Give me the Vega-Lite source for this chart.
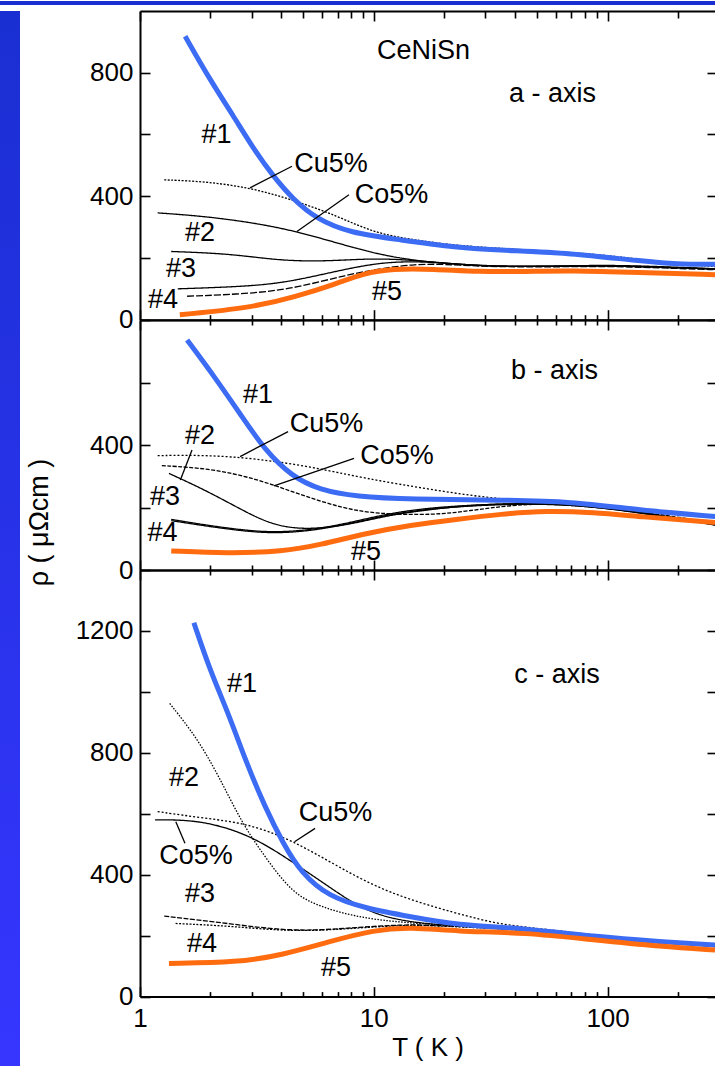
{
  "$schema": "https://vega.github.io/schema/vega-lite/v6.json",
  "padding": 0,
  "background": "white",
  "config": {
    "view": {"stroke": null},
    "font": "Liberation Sans",
    "axis": {
      "domainColor": "black", "domainWidth": 2, "tickColor": "black", "tickWidth": 1.6,
      "labelFont": "Liberation Sans", "labelFontSize": 26, "labelColor": "black",
      "titleFont": "Liberation Sans", "titleFontSize": 26, "titleFontWeight": "normal", "titleColor": "black",
      "grid": false, "labelFlush": false, "labelOverlap": false, "labelBound": false
    }
  },
  "datasets": {
    "ca": [
      {"s":"#1","T":1.56,"r":918},{"s":"#1","T":2.0,"r":775},{"s":"#1","T":2.5,"r":662},{"s":"#1","T":3.05,"r":555},{"s":"#1","T":3.72,"r":464},{"s":"#1","T":4.53,"r":389},{"s":"#1","T":5.7,"r":326},{"s":"#1","T":7.9,"r":281},{"s":"#1","T":12.9,"r":259},{"s":"#1","T":22.5,"r":234},{"s":"#1","T":35,"r":225},{"s":"#1","T":70,"r":216},{"s":"#1","T":136,"r":190},{"s":"#1","T":215,"r":178},{"s":"#1","T":288,"r":180},
      {"s":"Cu5%","T":1.27,"r":453},{"s":"Cu5%","T":1.9,"r":448},{"s":"Cu5%","T":2.98,"r":427},{"s":"Cu5%","T":4.47,"r":389},{"s":"Cu5%","T":7.0,"r":336},{"s":"Cu5%","T":10,"r":281},{"s":"Cu5%","T":15,"r":258},{"s":"Cu5%","T":22.5,"r":240},{"s":"Cu5%","T":40,"r":228},{"s":"Cu5%","T":70,"r":218},{"s":"Cu5%","T":100,"r":208},{"s":"Cu5%","T":200,"r":182},{"s":"Cu5%","T":288,"r":172},
      {"s":"Co5%","T":1.19,"r":346},{"s":"Co5%","T":1.9,"r":335},{"s":"Co5%","T":3.12,"r":313},{"s":"Co5%","T":4.68,"r":286},{"s":"Co5%","T":7.0,"r":248},{"s":"Co5%","T":10.5,"r":211},{"s":"Co5%","T":15.7,"r":189},{"s":"Co5%","T":28,"r":173},{"s":"Co5%","T":50,"r":172},{"s":"Co5%","T":100,"r":175},{"s":"Co5%","T":200,"r":168},{"s":"Co5%","T":288,"r":165},
      {"s":"#2","T":1.36,"r":221},{"s":"#2","T":2.38,"r":214},{"s":"#2","T":3.74,"r":194},{"s":"#2","T":5.36,"r":189},{"s":"#2","T":7.5,"r":193},{"s":"#2","T":10,"r":198},{"s":"#2","T":14.4,"r":194},{"s":"#2","T":28,"r":173},{"s":"#2","T":50,"r":172},{"s":"#2","T":100,"r":178},{"s":"#2","T":200,"r":170},{"s":"#2","T":288,"r":165},
      {"s":"#3","T":1.45,"r":100},{"s":"#3","T":2.98,"r":108},{"s":"#3","T":4.47,"r":124},{"s":"#3","T":7.35,"r":162},{"s":"#3","T":10.5,"r":184},{"s":"#3","T":14.4,"r":189},{"s":"#3","T":20,"r":184},{"s":"#3","T":28,"r":175},{"s":"#3","T":50,"r":172},{"s":"#3","T":100,"r":176},{"s":"#3","T":200,"r":168},{"s":"#3","T":288,"r":164},
      {"s":"#4","T":1.59,"r":76},{"s":"#4","T":2.98,"r":84},{"s":"#4","T":4.69,"r":103},{"s":"#4","T":7.68,"r":146},{"s":"#4","T":11,"r":167},{"s":"#4","T":15,"r":180},{"s":"#4","T":20,"r":180},{"s":"#4","T":28,"r":173},{"s":"#4","T":50,"r":170},{"s":"#4","T":100,"r":174},{"s":"#4","T":200,"r":166},{"s":"#4","T":288,"r":162},
      {"s":"#5","T":1.48,"r":16},{"s":"#5","T":2.98,"r":38},{"s":"#5","T":4.69,"r":76},{"s":"#5","T":6.7,"r":113},{"s":"#5","T":9.1,"r":151},{"s":"#5","T":12,"r":165},{"s":"#5","T":18,"r":164},{"s":"#5","T":28,"r":155},{"s":"#5","T":45,"r":156},{"s":"#5","T":70,"r":159},{"s":"#5","T":136,"r":153},{"s":"#5","T":288,"r":146}
    ],
    "cb": [
      {"s":"#1","T":1.59,"r":736},{"s":"#1","T":2.08,"r":619},{"s":"#1","T":2.73,"r":491},{"s":"#1","T":3.42,"r":384},{"s":"#1","T":4.47,"r":299},{"s":"#1","T":5.87,"r":256},{"s":"#1","T":8.39,"r":235},{"s":"#1","T":14.4,"r":226},{"s":"#1","T":35,"r":224},{"s":"#1","T":70,"r":219},{"s":"#1","T":136,"r":192},{"s":"#1","T":288,"r":171},
      {"s":"Cu5%","T":1.19,"r":366},{"s":"Cu5%","T":1.9,"r":368},{"s":"Cu5%","T":3.12,"r":357},{"s":"Cu5%","T":5.36,"r":331},{"s":"Cu5%","T":9.16,"r":293},{"s":"Cu5%","T":18,"r":256},{"s":"Cu5%","T":35,"r":224},{"s":"Cu5%","T":70,"r":218},{"s":"Cu5%","T":136,"r":190},{"s":"Cu5%","T":288,"r":168},
      {"s":"Co5%","T":1.24,"r":334},{"s":"Co5%","T":1.99,"r":325},{"s":"Co5%","T":3.12,"r":293},{"s":"Co5%","T":4.68,"r":245},{"s":"Co5%","T":7.35,"r":197},{"s":"Co5%","T":10.5,"r":179},{"s":"Co5%","T":18,"r":176},{"s":"Co5%","T":25,"r":188},{"s":"Co5%","T":40,"r":210},{"s":"Co5%","T":70,"r":214},{"s":"Co5%","T":136,"r":189},{"s":"Co5%","T":288,"r":150},
      {"s":"#2","T":1.33,"r":309},{"s":"#2","T":1.9,"r":256},{"s":"#2","T":2.73,"r":192},{"s":"#2","T":3.74,"r":141},{"s":"#2","T":5.36,"r":128},{"s":"#2","T":8.39,"r":149},{"s":"#2","T":11.5,"r":176},{"s":"#2","T":22.5,"r":205},{"s":"#2","T":44.5,"r":216},{"s":"#2","T":87,"r":203},{"s":"#2","T":150,"r":180},{"s":"#2","T":288,"r":144},
      {"s":"#3","T":1.36,"r":162},{"s":"#3","T":1.9,"r":144},{"s":"#3","T":2.73,"r":128},{"s":"#3","T":3.74,"r":120},{"s":"#3","T":5.36,"r":128},{"s":"#3","T":7.68,"r":149},{"s":"#3","T":11.5,"r":181},{"s":"#3","T":18,"r":201},{"s":"#3","T":35,"r":213},{"s":"#3","T":70,"r":213},{"s":"#3","T":136,"r":187},{"s":"#3","T":288,"r":147},
      {"s":"#4","T":1.36,"r":158},{"s":"#4","T":1.9,"r":141},{"s":"#4","T":2.73,"r":125},{"s":"#4","T":3.74,"r":117},{"s":"#4","T":5.36,"r":125},{"s":"#4","T":7.68,"r":146},{"s":"#4","T":11.5,"r":177},{"s":"#4","T":18,"r":198},{"s":"#4","T":35,"r":211},{"s":"#4","T":70,"r":211},{"s":"#4","T":136,"r":184},{"s":"#4","T":288,"r":144},
      {"s":"#5","T":1.36,"r":61},{"s":"#5","T":2.38,"r":53},{"s":"#5","T":4.09,"r":59},{"s":"#5","T":5.87,"r":80},{"s":"#5","T":9.16,"r":117},{"s":"#5","T":14.4,"r":144},{"s":"#5","T":22.5,"r":162},{"s":"#5","T":35,"r":179},{"s":"#5","T":55,"r":190},{"s":"#5","T":87,"r":184},{"s":"#5","T":136,"r":171},{"s":"#5","T":288,"r":152}
    ],
    "cc": [
      {"s":"#1","T":1.70,"r":1227},{"s":"#1","T":1.99,"r":1072},{"s":"#1","T":2.39,"r":929},{"s":"#1","T":2.86,"r":765},{"s":"#1","T":3.42,"r":623},{"s":"#1","T":4.09,"r":503},{"s":"#1","T":4.9,"r":405},{"s":"#1","T":6.42,"r":328},{"s":"#1","T":9.2,"r":290},{"s":"#1","T":14.4,"r":262},{"s":"#1","T":22.5,"r":235},{"s":"#1","T":44.5,"r":224},{"s":"#1","T":87,"r":197},{"s":"#1","T":170,"r":180},{"s":"#1","T":288,"r":169},
      {"s":"#2","T":1.34,"r":962},{"s":"#2","T":1.74,"r":853},{"s":"#2","T":2.18,"r":722},{"s":"#2","T":2.73,"r":569},{"s":"#2","T":3.42,"r":459},{"s":"#2","T":4.48,"r":339},{"s":"#2","T":5.87,"r":295},{"s":"#2","T":8.39,"r":262},{"s":"#2","T":12,"r":246},{"s":"#2","T":20,"r":234},{"s":"#2","T":40,"r":224},{"s":"#2","T":100,"r":195},{"s":"#2","T":288,"r":167},
      {"s":"Cu5%","T":1.19,"r":607},{"s":"Cu5%","T":1.9,"r":585},{"s":"Cu5%","T":2.86,"r":569},{"s":"Cu5%","T":4.47,"r":514},{"s":"Cu5%","T":7.0,"r":427},{"s":"Cu5%","T":11.5,"r":339},{"s":"Cu5%","T":22.5,"r":273},{"s":"Cu5%","T":35,"r":235},{"s":"Cu5%","T":60,"r":218},{"s":"Cu5%","T":100,"r":196},{"s":"Cu5%","T":288,"r":166},
      {"s":"Co5%","T":1.16,"r":580},{"s":"Co5%","T":1.82,"r":580},{"s":"Co5%","T":2.98,"r":530},{"s":"Co5%","T":4.47,"r":443},{"s":"Co5%","T":6.42,"r":361},{"s":"Co5%","T":9.2,"r":279},{"s":"Co5%","T":13.6,"r":246},{"s":"Co5%","T":20,"r":234},{"s":"Co5%","T":40,"r":224},{"s":"Co5%","T":100,"r":195},{"s":"Co5%","T":288,"r":166},
      {"s":"#3","T":1.27,"r":264},{"s":"#3","T":2.39,"r":240},{"s":"#3","T":4.47,"r":213},{"s":"#3","T":7.68,"r":224},{"s":"#3","T":13.6,"r":238},{"s":"#3","T":20,"r":232},{"s":"#3","T":40,"r":222},{"s":"#3","T":100,"r":193},{"s":"#3","T":288,"r":165},
      {"s":"#4","T":1.42,"r":240},{"s":"#4","T":2.39,"r":232},{"s":"#4","T":4.47,"r":213},{"s":"#4","T":7.68,"r":222},{"s":"#4","T":13.6,"r":236},{"s":"#4","T":20,"r":231},{"s":"#4","T":40,"r":221},{"s":"#4","T":100,"r":192},{"s":"#4","T":288,"r":164},
      {"s":"#5","T":1.33,"r":109},{"s":"#5","T":2.61,"r":112},{"s":"#5","T":4.09,"r":137},{"s":"#5","T":6.42,"r":180},{"s":"#5","T":10.05,"r":219},{"s":"#5","T":14.4,"r":228},{"s":"#5","T":22.5,"r":214},{"s":"#5","T":44.5,"r":210},{"s":"#5","T":87,"r":186},{"s":"#5","T":170,"r":164},{"s":"#5","T":288,"r":153}
    ],
    "la": [
      {"t":"CeNiSn","T":16.3,"r":870},{"t":"a - axis","T":58.1,"r":731},{"t":"#1","T":2.125,"r":598},{"t":"Cu5%","T":6.56,"r":504},{"t":"Co5%","T":11.9,"r":404},{"t":"#2","T":1.806,"r":281},{"t":"#3","T":1.497,"r":164},{"t":"#4","T":1.254,"r":64},{"t":"#5","T":11.39,"r":90}
    ],
    "lb": [
      {"t":"b - axis","T":59.3,"r":636},{"t":"#1","T":3.2,"r":559},{"t":"Cu5%","T":6.28,"r":466},{"t":"Co5%","T":12.57,"r":365},{"t":"#2","T":1.806,"r":429},{"t":"#3","T":1.279,"r":233},{"t":"#4","T":1.248,"r":117},{"t":"#5","T":9.26,"r":58}
    ],
    "lc": [
      {"t":"c - axis","T":60.8,"r":1054},{"t":"#1","T":2.73,"r":1025},{"t":"#2","T":1.542,"r":716},{"t":"Cu5%","T":6.86,"r":601},{"t":"Co5%","T":1.736,"r":460},{"t":"#3","T":1.806,"r":336},{"t":"#4","T":1.842,"r":172},{"t":"#5","T":6.89,"r":93}
    ],
    "ra": [
      {"T1":2.954,"r1":427,"T2":4.47,"r2":497},{"T1":4.69,"r1":286,"T2":7.83,"r2":405}
    ],
    "rb": [
      {"T1":2.68,"r1":363,"T2":4.3,"r2":443},{"T1":3.74,"r1":269,"T2":8.23,"r2":357},{"T1":1.669,"r1":384,"T2":1.488,"r2":288}
    ],
    "rc": [
      {"T1":4.58,"r1":508,"T2":5.61,"r2":552},{"T1":1.423,"r1":574,"T2":1.557,"r2":503}
    ]
  },
  "spacing": 4,
  "vconcat": [
    {
      "width": 715, "height": 4,
      "data": {"values": [{"k": 0}]},
      "mark": {"type": "point", "opacity": 0},
      "view": {"fill": "#1a2fd2", "stroke": null}
    },
    {
      "spacing": 5,
      "hconcat": [
        {
          "width": 20, "height": 1058,
          "data": {"values": [{"k": 0}]},
          "mark": {"type": "point", "opacity": 0},
          "view": {"fill": {"gradient": "linear", "x1": 0, "y1": 0, "x2": 0, "y2": 1, "stops": [{"offset": 0, "color": "#1a2fd2"}, {"offset": 1, "color": "#3636ff"}]}, "stroke": null}
        },
        {
          "spacing": 0,
          "bounds": "flush",
          "resolve": {"scale": {"strokeDash": "independent", "strokeWidth": "independent"}},
          "vconcat": [
            {
              "width": 575, "height": 308.7,
              "resolve": {"axis": {"x": "independent", "y": "independent"}},
              "layer": [
                {
                  "data": {"name": "ca"},
                  "transform": [{"filter": "datum.s !== '#1' && datum.s !== '#5'"}],
                  "mark": {"type": "line", "interpolate": "basis", "strokeWidth": 1.3, "color": "black", "clip": true},
                  "encoding": {
                    "x": {"field": "T", "type": "quantitative", "scale": {"type": "log", "domain": [1, 288], "nice": false}, "axis": {"orient": "bottom", "values": [2,3,4,5,6,7,8,9,20,30,40,50,60,70,80,90,200], "tickSize": -5, "labels": false, "title": null}},
                    "y": {"field": "r", "type": "quantitative", "scale": {"domain": [0, 1000], "nice": false, "zero": false}, "axis": {"orient": "left", "values": [0,200,400,600,800], "format": "d", "tickSize": -10, "labelPadding": 17, "labelExpr": "datum.value % 400 === 0 ? datum.label : ''", "title": null}},
                    "strokeDash": {"field": "s", "type": "nominal", "scale": {"domain": ["Cu5%","Co5%","#2","#3","#4"], "range": [[2,1.5],[1,0],[1,0],[1,0],[7,2]]}, "legend": null}
                  }
                },
                {
                  "data": {"name": "ca"},
                  "transform": [{"filter": "datum.s === '#1' || datum.s === '#5'"}],
                  "mark": {"type": "line", "interpolate": "basis", "strokeWidth": 5, "clip": true},
                  "encoding": {
                    "x": {"field": "T", "type": "quantitative", "axis": {"orient": "top", "values": [2,3,4,5,6,7,8,9,20,30,40,50,60,70,80,90,200], "tickSize": -7, "labels": false, "title": null}},
                    "y": {"field": "r", "type": "quantitative", "axis": {"orient": "right", "values": [0,200,400,600,800], "tickSize": -8, "labels": false, "domain": false, "title": null}},
                    "color": {"field": "s", "type": "nominal", "scale": {"domain": ["#1","#5"], "range": ["#3d6cf4","#ff6b0f"]}, "legend": null}
                  }
                },
                {
                  "data": {"name": "ra"},
                  "mark": {"type": "rule", "strokeWidth": 1.3, "color": "black"},
                  "encoding": {
                    "x": {"field": "T1", "type": "quantitative", "axis": {"orient": "bottom", "values": [1,10,100], "tickSize": -10, "labels": false, "domain": false, "title": null}},
                    "x2": {"field": "T2"},
                    "y": {"field": "r1", "type": "quantitative", "axis": null},
                    "y2": {"field": "r2"}
                  }
                },
                {
                  "data": {"name": "la"},
                  "mark": {"type": "text", "font": "Liberation Sans", "fontSize": 27, "color": "black", "align": "center", "baseline": "middle"},
                  "encoding": {
                    "x": {"field": "T", "type": "quantitative", "axis": {"orient": "top", "values": [1,10,100], "tickSize": -10, "labels": false, "domain": false, "title": null}},
                    "y": {"field": "r", "type": "quantitative", "axis": null},
                    "text": {"field": "t"}
                  }
                }
              ]
            },
            {
              "width": 575, "height": 250,
              "resolve": {"axis": {"x": "independent", "y": "independent"}},
              "layer": [
                {
                  "data": {"name": "cb"},
                  "transform": [{"filter": "datum.s !== '#1' && datum.s !== '#5'"}],
                  "mark": {"type": "line", "interpolate": "basis", "color": "black", "clip": true},
                  "encoding": {
                    "x": {"field": "T", "type": "quantitative", "scale": {"type": "log", "domain": [1, 288], "nice": false}, "axis": {"orient": "bottom", "values": [2,3,4,5,6,7,8,9,20,30,40,50,60,70,80,90,200], "tickSize": -5, "labels": false, "title": null}},
                    "y": {"field": "r", "type": "quantitative", "scale": {"domain": [0, 800], "nice": false, "zero": false}, "axis": {"orient": "left", "values": [0,200,400,600], "format": "d", "tickSize": -10, "labelPadding": 17, "labelExpr": "datum.value % 400 === 0 ? datum.label : ''", "title": "ρ ( μΩcm )", "titleFontSize": 27, "titleX": -101, "titleY": 202, "titleAngle": -90, "titleAlign": "center", "titleBaseline": "middle"}},
                    "strokeDash": {"field": "s", "type": "nominal", "scale": {"domain": ["Cu5%","Co5%","#2","#3","#4"], "range": [[2,2],[4,1.5],[1,0],[1,0],[1,0]]}, "legend": null},
                    "strokeWidth": {"field": "s", "type": "nominal", "scale": {"domain": ["Cu5%","Co5%","#2","#3","#4"], "range": [1.3,1.3,1.3,2.2,1.6]}, "legend": null}
                  }
                },
                {
                  "data": {"name": "cb"},
                  "transform": [{"filter": "datum.s === '#1' || datum.s === '#5'"}],
                  "mark": {"type": "line", "interpolate": "basis", "strokeWidth": 5, "clip": true},
                  "encoding": {
                    "x": {"field": "T", "type": "quantitative", "axis": {"orient": "top", "values": [2,3,4,5,6,7,8,9,20,30,40,50,60,70,80,90,200], "tickSize": -5, "labels": false, "title": null}},
                    "y": {"field": "r", "type": "quantitative", "axis": {"orient": "right", "values": [0,200,400,600], "tickSize": -8, "labels": false, "domain": false, "title": null}},
                    "color": {"field": "s", "type": "nominal", "scale": {"domain": ["#1","#5"], "range": ["#3d6cf4","#ff6b0f"]}, "legend": null}
                  }
                },
                {
                  "data": {"name": "rb"},
                  "mark": {"type": "rule", "strokeWidth": 1.3, "color": "black"},
                  "encoding": {
                    "x": {"field": "T1", "type": "quantitative", "axis": {"orient": "bottom", "values": [1,10,100], "tickSize": -10, "labels": false, "domain": false, "title": null}},
                    "x2": {"field": "T2"},
                    "y": {"field": "r1", "type": "quantitative", "axis": null},
                    "y2": {"field": "r2"}
                  }
                },
                {
                  "data": {"name": "lb"},
                  "mark": {"type": "text", "font": "Liberation Sans", "fontSize": 27, "color": "black", "align": "center", "baseline": "middle"},
                  "encoding": {
                    "x": {"field": "T", "type": "quantitative", "axis": {"orient": "top", "values": [1,10,100], "tickSize": -10, "labels": false, "domain": false, "title": null}},
                    "y": {"field": "r", "type": "quantitative", "axis": null},
                    "text": {"field": "t"}
                  }
                }
              ]
            },
            {
              "width": 575, "height": 426.6,
              "resolve": {"axis": {"x": "independent", "y": "independent"}},
              "layer": [
                {
                  "data": {"name": "cc"},
                  "transform": [{"filter": "datum.s !== '#1' && datum.s !== '#5'"}],
                  "mark": {"type": "line", "interpolate": "basis", "strokeWidth": 1.3, "color": "black", "clip": true},
                  "encoding": {
                    "x": {"field": "T", "type": "quantitative", "scale": {"type": "log", "domain": [1, 288], "nice": false}, "axis": {"orient": "bottom", "values": [2,3,4,5,6,7,8,9,20,30,40,50,60,70,80,90,200], "tickSize": -5, "labels": false, "title": null}},
                    "y": {"field": "r", "type": "quantitative", "scale": {"domain": [0, 1400], "nice": false, "zero": false}, "axis": {"orient": "left", "values": [0,200,400,600,800,1000,1200], "format": "d", "tickSize": -10, "labelPadding": 17, "labelExpr": "datum.value % 400 === 0 ? datum.label : ''", "title": null}},
                    "strokeDash": {"field": "s", "type": "nominal", "scale": {"domain": ["Cu5%","Co5%","#2","#3","#4"], "range": [[2,2],[1,0],[1.5,1.5],[5,1.5],[2,1.5]]}, "legend": null}
                  }
                },
                {
                  "data": {"name": "cc"},
                  "transform": [{"filter": "datum.s === '#1' || datum.s === '#5'"}],
                  "mark": {"type": "line", "interpolate": "basis", "strokeWidth": 5, "clip": true},
                  "encoding": {
                    "x": {"field": "T", "type": "quantitative", "axis": {"orient": "top", "values": [2,3,4,5,6,7,8,9,20,30,40,50,60,70,80,90,200], "tickSize": -5, "labels": false, "title": null}},
                    "y": {"field": "r", "type": "quantitative", "axis": {"orient": "right", "values": [0,200,400,600,800,1000,1200], "tickSize": -8, "labels": false, "domain": false, "title": null}},
                    "color": {"field": "s", "type": "nominal", "scale": {"domain": ["#1","#5"], "range": ["#3d6cf4","#ff6b0f"]}, "legend": null}
                  }
                },
                {
                  "data": {"name": "rc"},
                  "mark": {"type": "rule", "strokeWidth": 1.3, "color": "black"},
                  "encoding": {
                    "x": {"field": "T1", "type": "quantitative", "axis": {"orient": "bottom", "values": [1,10,100], "tickSize": -10, "labelPadding": 19, "domain": false, "title": "T ( K )", "titlePadding": 3}},
                    "x2": {"field": "T2"},
                    "y": {"field": "r1", "type": "quantitative", "axis": null},
                    "y2": {"field": "r2"}
                  }
                },
                {
                  "data": {"name": "lc"},
                  "mark": {"type": "text", "font": "Liberation Sans", "fontSize": 27, "color": "black", "align": "center", "baseline": "middle"},
                  "encoding": {
                    "x": {"field": "T", "type": "quantitative", "axis": {"orient": "top", "values": [1,10,100], "tickSize": -10, "labels": false, "domain": false, "title": null}},
                    "y": {"field": "r", "type": "quantitative", "axis": null},
                    "text": {"field": "t"}
                  }
                }
              ]
            }
          ]
        }
      ]
    }
  ]
}
